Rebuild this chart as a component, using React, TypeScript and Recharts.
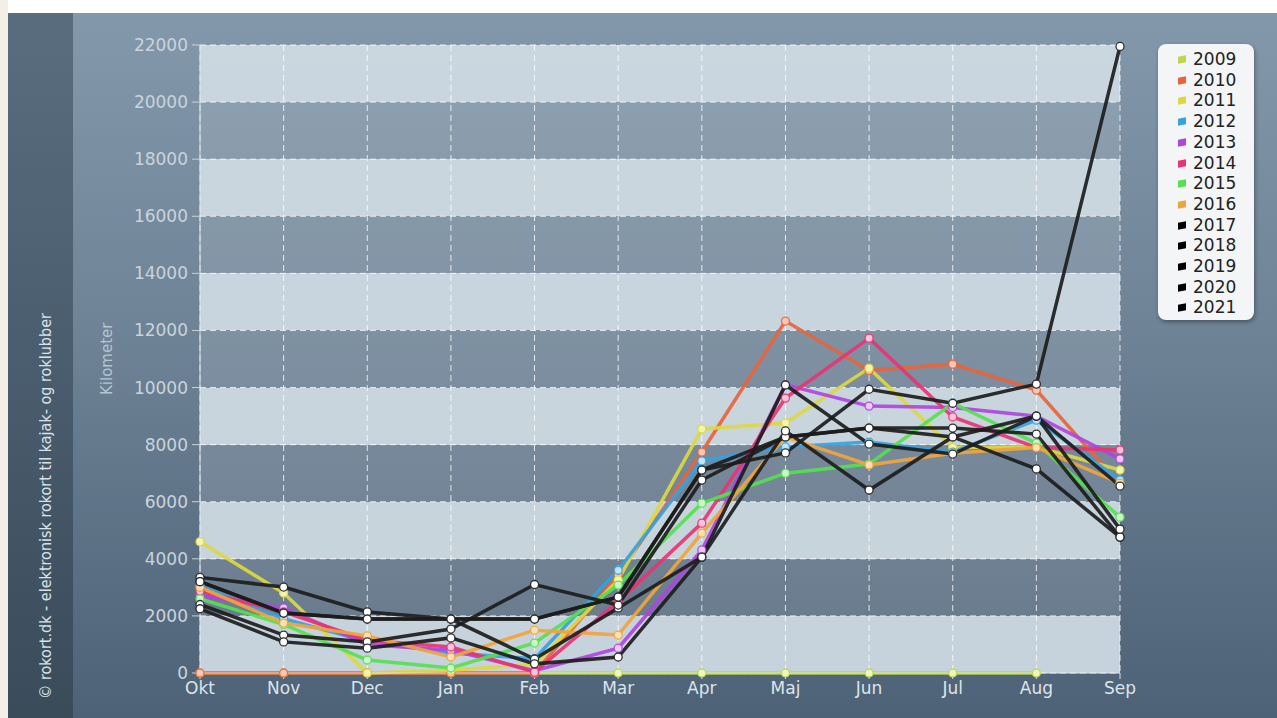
import React from 'react';
import { LineChart, Line, XAxis, YAxis, CartesianGrid } from 'recharts';

const months = ['Okt', 'Nov', 'Dec', 'Jan', 'Feb', 'Mar', 'Apr', 'Maj', 'Jun', 'Jul', 'Aug', 'Sep'];
const yTicks = [0, 2000, 4000, 6000, 8000, 10000, 12000, 14000, 16000, 18000, 20000, 22000];
const years = ['2009', '2010', '2011', '2012', '2013', '2014', '2015', '2016', '2017', '2018', '2019', '2020', '2021'];

const v2009 = [0, 0, 0, 0, 0, 0, 0, 0, 0, 0, 0, null];
const v2010 = [0, 0, 0, 0, 0, 3430, 7740, 12330, 10600, 10820, 9910, 6600];
const v2011 = [4600, 2800, 0, 100, 300, 3260, 8550, 8760, 10680, 7900, 7920, 7110];
const v2012 = [3050, 1900, 1100, 700, 500, 3600, 7430, 7920, 8090, 7740, 8860, 6760];
const v2013 = [2700, 2280, 1000, 800, 80, 870, 4310, 10100, 9350, 9300, 9000, 7500];
const v2014 = [2870, 2140, 1150, 910, 30, 2500, 5250, 9630, 11730, 8970, 7900, 7810];
const v2015 = [2600, 1700, 455, 175, 1050, 3080, 5950, 7000, 7320, 9450, 8050, 5460];
const v2016 = [3000, 1750, 1300, 560, 1500, 1330, 4900, 8270, 7290, 7700, 7900, 6650];
const v2017 = [3350, 3010, 2140, 1890, 490, 2280, 4060, 10090, 8020, 7670, 9000, 6550];
const v2018 = [3200, 2100, 1890, 1890, 1890, 2660, 7110, 8270, 8580, 8580, 8370, 4760];
const v2019 = [2400, 1330, 1090, 1540, 3100, 2380, 6760, 8270, 8580, 8270, 7150, 4760];
const v2020 = [2250, 1090, 870, 1230, 320, 560, 4060, 8480, 6410, 8270, 9000, 5040];
const v2021 = [3200, 2100, 1890, 1890, 1890, 2660, 7110, 7710, 9940, 9450, 10120, 21950];

const seriesValues = [v2009, v2010, v2011, v2012, v2013, v2014, v2015, v2016, v2017, v2018, v2019, v2020, v2021];
const colors = ['#bcd84a', '#e8643c', '#dcd840', '#36a2de', '#b044e0', '#e83474', '#56e050', '#f0a43c', '#1c1c1c', '#1c1c1c', '#1c1c1c', '#1c1c1c', '#1c1c1c'];
const dotFills = ['#eef5c0', '#f8c8b4', '#f6f2b0', '#c0e4f8', '#eccaf8', '#f8c4dc', '#ccf8c8', '#fae0b8', '#ffffff', '#ffffff', '#ffffff', '#ffffff', '#ffffff'];

const data = months.map((m, i) => {
  const row: any = { month: m };
  years.forEach((y, k) => {
    row[y] = seriesValues[k][i];
  });
  return row;
});

const FONT = '"DejaVu Sans", Verdana, sans-serif';

export default function App() {
  return (
    <div style={{ position: 'absolute', left: 0, top: 0, width: 1277, height: 718, overflow: 'hidden', background: '#ffffff' }}>
      <div style={{ position: 'absolute', left: 0, top: 0, width: 8, height: 718, background: '#f3eee6' }} />
      <div style={{ position: 'absolute', left: 73, top: 13, width: 1204, height: 705, background: 'linear-gradient(to bottom, #8398aa 0%, #6e8396 45%, #4d6276 100%)' }} />
      <div style={{ position: 'absolute', left: 8, top: 13, width: 65, height: 705, background: 'linear-gradient(to bottom, #5a6d7f 0%, #4a5d6e 50%, #3a4b5a 100%)' }} />
      <div style={{ position: 'absolute', left: 37, top: 708, width: 0, height: 0 }}>
        <div style={{ position: 'absolute', left: 0, top: 0, transform: 'rotate(-90deg)', transformOrigin: '0 0', whiteSpace: 'nowrap', fontFamily: '"DejaVu Sans Condensed", "DejaVu Sans", sans-serif', fontSize: 16, color: '#dae1e8', lineHeight: '18px', marginTop: -9 }}>
          © rokort.dk - elektronisk rokort til kajak- og roklubber
        </div>
      </div>
      <div style={{ position: 'absolute', left: 107, top: 395, width: 0, height: 0 }}>
        <div style={{ position: 'absolute', left: 0, top: -9, transform: 'rotate(-90deg)', transformOrigin: '0 9px', whiteSpace: 'nowrap', fontFamily: FONT, fontSize: 15, color: '#b4c6d4', lineHeight: '18px' }}>
          Kilometer
        </div>
      </div>

      <div style={{ position: 'absolute', left: 0, top: 0 }}>
        <LineChart width={1277} height={718} data={data} margin={{ top: 45, right: 157, bottom: 15, left: 140 }}>
          <CartesianGrid
            stroke="rgba(255,255,255,0.8)"
            strokeDasharray="6 4"
            horizontalFill={['rgba(208,219,227,0.93)', 'rgba(255,255,255,0.12)']}
            fillOpacity={1}
          />
          <XAxis
            dataKey="month"
            height={30}
            tickSize={6}
            tickMargin={3}
            interval={0}
            axisLine={{ stroke: '#d8e0e6' }}
            tickLine={{ stroke: '#d8e0e6' }}
            tick={{ fill: '#dde4ea', fontSize: 17, fontFamily: FONT }}
          />
          <YAxis
            width={60}
            domain={[0, 22000]}
            ticks={yTicks}
            interval={0}
            tickSize={8}
            tickMargin={4}
            axisLine={{ stroke: '#d8e0e6' }}
            tickLine={{ stroke: '#c6d2dc' }}
            tick={{ fill: '#c9d4de', fontSize: 17, fontFamily: FONT }}
          />
          {years.map((y, k) => (
            <Line
              key={y}
              type="linear"
              dataKey={y}
              stroke={colors[k]}
              strokeWidth={3.5}
              strokeOpacity={0.92}
              isAnimationActive={false}
              dot={{ r: 4, fill: dotFills[k], stroke: k >= 8 ? '#222' : colors[k], strokeWidth: 1.3 }}
              activeDot={false}
            />
          ))}
        </LineChart>
      </div>

      <div style={{ position: 'absolute', left: 1158, top: 44, width: 96, height: 276, background: '#f3f5f7', borderRadius: 8, boxShadow: '1px 2px 4px rgba(0,0,0,0.35)' }}>
        {years.map((y, k) => (
          <div key={y} style={{ position: 'absolute', left: 0, top: 5 + k * 20.7, height: 20, width: 96 }}>
            <div style={{ position: 'absolute', left: 20, top: 7, width: 8, height: 7, background: k >= 8 ? '#000' : colors[k], transform: 'skewY(-12deg)' }} />
            <div style={{ position: 'absolute', left: 35, top: 0, fontFamily: FONT, fontSize: 17, lineHeight: '20px', color: '#222' }}>{y}</div>
          </div>
        ))}
      </div>
    </div>
  );
}
